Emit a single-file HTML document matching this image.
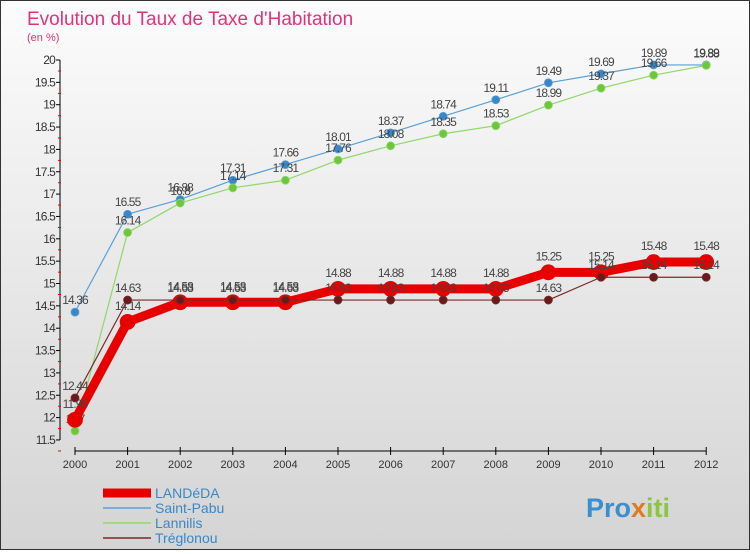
<!DOCTYPE html>
<html><head><meta charset="utf-8"><style>
body{margin:0;width:750px;height:550px;overflow:hidden;font-family:"Liberation Sans",sans-serif}
#wrap{position:relative;width:748px;height:548px;border:1px solid #333;background:linear-gradient(#fcfcfc,#d4d4d4)}
</style></head><body>
<div id="wrap">
<svg id="chart" width="748" height="548">
<text x="26" y="24" font-size="19" fill="#e0337a">Evolution du Taux de Taxe d'Habitation</text>
<text x="26" y="40" font-size="11" fill="#e0337a">(en %)</text>
<g id="axes"></g><g id="series"></g><g id="legend"></g>
<text x="585" y="516" font-size="27" font-weight="bold" fill="#3a8fd0">Pro<tspan fill="#e07a20">x</tspan><tspan fill="#8cc63f">iti</tspan></text>
</svg></div>
<script>
const years=[2000,2001,2002,2003,2004,2005,2006,2007,2008,2009,2010,2011,2012];
const yTicks=[11.5,12,12.5,13,13.5,14,14.5,15,15.5,16,16.5,17,17.5,18,18.5,19,19.5,20];
const landeda=[11.95,14.14,14.58,14.58,14.58,14.88,14.88,14.88,14.88,15.25,15.25,15.48,15.48];
const saintPabu=[14.36,16.55,16.88,17.31,17.66,18.01,18.37,18.74,19.11,19.49,19.69,19.89,19.89];
const lannilis=[11.7,16.14,16.8,17.14,17.31,17.76,18.08,18.35,18.53,18.99,19.37,19.66,19.88];
const treglonou=[12.44,14.63,14.63,14.63,14.63,14.63,14.63,14.63,14.63,14.63,15.14,15.14,15.14];
const seriesNames=["LANDéDA","Saint-Pabu","Lannilis","Tréglonou"];
const NS="http://www.w3.org/2000/svg";
const X=i=>74+i*52.6;
const Y=v=>59+(20-v)*44.7;
function mk(t,a,p){const e=document.createElementNS(NS,t);for(const k in a)e.setAttribute(k,a[k]);p.appendChild(e);return e;}
const ax=document.getElementById('axes');
const yl=mk('line',{x1:59,y1:59,x2:59,y2:Y(11.5),stroke:'#000'},ax);


yTicks.forEach((t,i)=>{
 mk('line',{x1:55,y1:Y(t),x2:59,y2:Y(t),stroke:'#000'},ax);
 mk('line',{x1:57,y1:Y(t)+11,x2:60,y2:Y(t)+11,stroke:'#e00'},ax);
 const tx=mk('text',{x:54,y:Y(t)+4,'font-size':12,'text-anchor':'end',fill:'#333','letter-spacing':'-0.8'},ax);
 tx.textContent=t;
 
 
});
const xl=mk('line',{x1:74,y1:450,x2:X(12),y2:450,stroke:'#000'},ax);


years.forEach((y,i)=>{
 mk('line',{x1:X(i),y1:446,x2:X(i),y2:454,stroke:'#000'},ax);
 const tx=mk('text',{x:X(i),y:467,'font-size':11,'text-anchor':'middle',fill:'#333'},ax);
 tx.textContent=y;
 
 
});
const sg=document.getElementById('series');
function draw(vals,color,w,r,fill,name,dy){
 const g=mk('g',{},sg);
 
 
 mk('polyline',{points:vals.map((v,i)=>X(i)+','+Y(v)).join(' '),fill:'none',stroke:color,'stroke-width':w,'stroke-linejoin':'round'},g);
 vals.forEach((v,i)=>{
  const c=mk('circle',{cx:X(i),cy:Y(v),r:r,fill:fill,stroke:color,'stroke-width':0.8},g);
  
  
  const t=mk('text',{x:X(i),y:Y(v)+dy,'font-size':12,'text-anchor':'middle',fill:'#444','letter-spacing':'-0.9'},g);
  t.textContent=v;
  
  
 });
}
draw(saintPabu,'#5b9fd8',1.2,4,'#3a87c8','saint-pabu',-8);
draw(lannilis,'#8fd86a',1.2,4,'#6cc83a','lannilis',-8);
draw(landeda,'#e80000',9,7.5,'#e80000','landeda',-12);
draw(treglonou,'#7a2a2a',1.2,4,'#6a1a1a','treglonou',-8);
const lg=document.getElementById('legend');
const cols=['#e80000','#5b9fd8','#8fd86a','#7a2a2a'],ws=[9,1.5,1.5,1.5];
seriesNames.forEach((n,i)=>{
 const y=492+i*15;
 const g=mk('g',{},lg);
 
 
 mk('line',{x1:102,y1:y,x2:150,y2:y,stroke:cols[i],'stroke-width':ws[i]},g);
 const t=mk('text',{x:154,y:y+5,'font-size':14,fill:'#3a87c8'},g);
 t.textContent=n;
});
</script></body></html>
